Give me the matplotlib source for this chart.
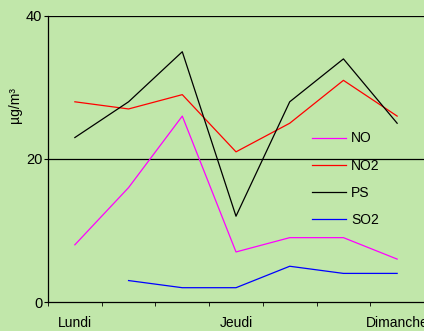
import numpy as np
import matplotlib
matplotlib.use("Agg")
import matplotlib.pyplot as plt

plt.rcParams['font.family'] = ['Liberation Sans', 'DejaVu Sans']

days = ["Lundi", "Mardi", "Mercredi", "Jeudi", "Vendredi", "Samedi", "Dimanche"]
no = [8, 16, 26, 7, 9, 9, 6]
no2 = [28, 27, 29, 21, 25, 31, 26]
ps = [23, 28, 35, 12, 28, 34, 25]
so2 = [np.nan, 3, 2, 2, 5, 4, 4]

bg = "#C1E7AA"
fig = plt.figure(figsize=(4.24, 3.31), dpi=100, facecolor=bg)
ax = fig.add_axes([0.1132, 0.0876, 0.8868, 0.8641], facecolor=bg)

x = np.arange(len(days))
ax.plot(x, no, color="#FF00FF", lw=0.9, label="NO")
ax.plot(x, no2, color="#FF0000", lw=0.9, label="NO2")
ax.plot(x, ps, color="black", lw=0.9, label="PS")
ax.plot(x, so2, color="#0000FF", lw=0.9, label="SO2")

for yv in (20, 40):
    ax.axhline(yv, color="black", lw=0.9, zorder=0.5)

ax.set_xlim(-0.5, 6.5)
ax.set_ylim(0, 40)
ax.set_yticks([0, 20, 40])
ax.set_xticks([0, 3, 6])
ax.set_xticklabels([days[0], days[3], days[6]])
ax.set_xticks(np.arange(-0.5, 7, 1), minor=True)
ax.tick_params(axis="x", which="major", length=0, labelsize=10, pad=10)
ax.tick_params(axis="x", which="minor", length=3, direction="out")
ax.tick_params(axis="y", length=3, direction="out", labelsize=10.5, pad=1)

for s in ("top", "right"):
    ax.spines[s].set_visible(False)
ax.spines["left"].set_linewidth(0.9)
ax.spines["bottom"].set_linewidth(0.9)

fig.text(15 / 424, 1 - 105 / 331, "µg/m³", rotation=90, fontsize=10,
         ha="center", va="center")

ax.legend(loc="upper left", bbox_to_anchor=(0.67, 0.64), frameon=False,
          fontsize=10, handlelength=2.4, handletextpad=0.4, labelspacing=0.95)

fig.savefig("out.png", dpi=100, facecolor=bg)
